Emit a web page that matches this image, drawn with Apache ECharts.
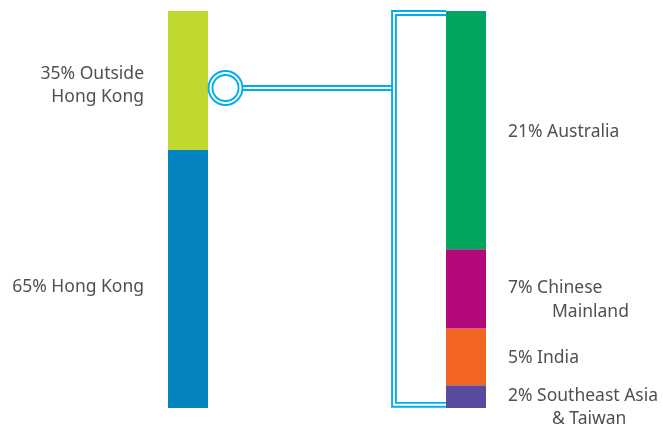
<!DOCTYPE html>
<html><head><meta charset="utf-8">
<script src="https://cdn.jsdelivr.net/npm/echarts@6/dist/echarts.min.js"></script>
<style>html,body{margin:0;padding:0;background:#fff}#c{width:663px;height:425px}</style>
</head><body><div id="c"></div>
<script>
// ---- data ----
const groups = ['Hong Kong vs outside', 'Outside Hong Kong breakdown'];
const leftNames = ['Hong Kong', 'Outside Hong Kong'];
const leftValues = [65, 35];
const leftLabels = [['65% Hong Kong'], ['35% Outside', 'Hong Kong']];
const rightNames = ['Southeast Asia & Taiwan', 'India', 'Chinese Mainland', 'Australia'];
const rightValues = [2, 5, 7, 21];
const rightLabels = [['2% Southeast Asia', '& Taiwan'], ['5% India'], ['7% Chinese', 'Mainland'], ['21% Australia']];

// ---- styles ----
const leftColors = ['#0484c0', '#c0d72f'];
const rightColors = ['#5a4a9e', '#f26522', '#b5087b', '#00a65d'];
const leftOffsets = [[0, 8], [0, 5]];
const rightOffsets = [[0, 11], [0, 1], [0, 11], [0, 2]];
const rightIndent = [44, 0, 44, 0];
const cyan = '#00aeef';
const textColor = '#505050';
const fs = 17.5;
const font = '"Noto Sans", "Open Sans", sans-serif';

const chart = echarts.init(document.getElementById('c'), null, {renderer: 'canvas'});
const leftTotal = leftValues.reduce((a, b) => a + b, 0);
const rightTotal = rightValues.reduce((a, b) => a + b, 0);

const series = [];
leftValues.forEach((v, i) => {
  series.push({
    name: leftNames[i], type: 'bar', stack: 'L', yAxisIndex: 0,
    barWidth: 40, barGap: '-100%',
    data: [v, '-'],
    itemStyle: {color: leftColors[i]},
    label: {
      show: true, position: 'left', distance: 24, offset: leftOffsets[i],
      formatter: () => leftLabels[i].join('\n'),
      color: textColor, fontSize: fs, fontFamily: font, lineHeight: 23, align: 'right'
    }
  });
});
rightValues.forEach((v, i) => {
  const lines = rightLabels[i];
  const rich = {a: {color: textColor, fontSize: fs, fontFamily: font, lineHeight: 23.5},
                b: {color: textColor, fontSize: fs, fontFamily: font, lineHeight: 23.5, padding: [0, 0, 0, rightIndent[i]]}};
  series.push({
    name: rightNames[i], type: 'bar', stack: 'R', yAxisIndex: 1,
    barWidth: 40, barGap: '-100%',
    data: ['-', v],
    itemStyle: {color: rightColors[i]},
    label: {
      show: true, position: 'right', distance: 22, offset: rightOffsets[i],
      formatter: () => lines.length > 1 ? '{a|' + lines[0] + '}\n{b|' + lines[1] + '}' : '{a|' + lines[0] + '}',
      rich: rich, align: 'left'
    }
  });
});

chart.setOption({
  animation: false,
  backgroundColor: '#ffffff',
  grid: {left: 49, right: 58, top: 11, bottom: 17, containLabel: false},
  xAxis: {type: 'category', data: groups, show: false},
  yAxis: [
    {type: 'value', min: 0, max: leftTotal, show: false},
    {type: 'value', min: 0, max: rightTotal, show: false}
  ],
  series: series
});

// ---- connector (decoration anchored to axis coordinates) ----
const barHalf = 20;
const lx = chart.convertToPixel({xAxisIndex: 0}, 0) + barHalf;     // left bar right edge
const rx = chart.convertToPixel({xAxisIndex: 0}, 1) - barHalf;     // right bar left edge
const topY = chart.convertToPixel({yAxisIndex: 1}, rightTotal);
const botY = chart.convertToPixel({yAxisIndex: 1}, 0);
const cy = chart.convertToPixel({yAxisIndex: 0}, 80.6);
const R = 15, cxC = lx + 17.5;
const vx = rx - 52;
const topL = topY + 2, botL = botY - 3.2;
const outerW = 5.8, innerW = 2;
function dbl(shape, type, z) {
  return [
    {type: type, shape: shape, style: {stroke: cyan, lineWidth: outerW, fill: null}, z: z},
    {type: type, shape: shape, style: {stroke: '#ffffff', lineWidth: innerW, fill: null}, z: z + 1}
  ];
}
const g = [];
g.push(...dbl({points: [[cxC + R, cy], [vx, cy]]}, 'polyline', 10));
g.push(...dbl({points: [[rx, topL], [vx, topL], [vx, botL], [rx, botL]]}, 'polyline', 12));
g.push(...dbl({cx: cxC, cy: cy, r: R}, 'circle', 14));
chart.setOption({graphic: g});
</script></body></html>
